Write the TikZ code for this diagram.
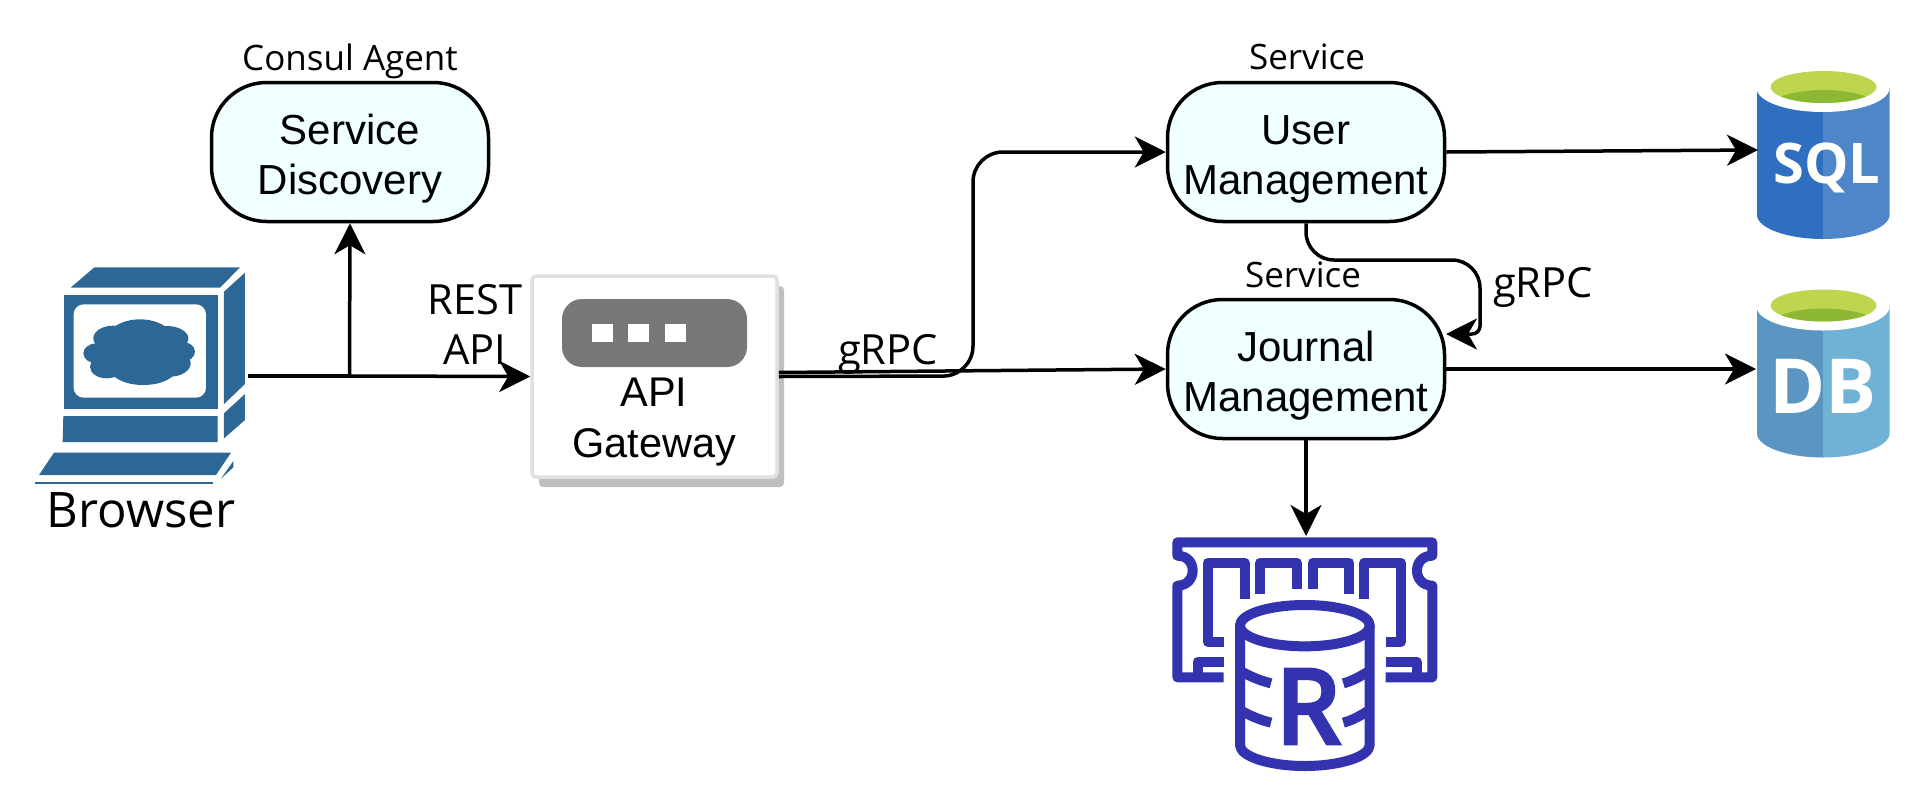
\documentclass[tikz,border=0pt]{standalone}
\usepackage{fontspec}
\setmainfont{Open Sans}
\newfontfamily\boxfont{Liberation Sans}
\newfontfamily\ramfont[FakeBold=5]{Open Sans}
\usetikzlibrary{arrows.meta,shadows}

\definecolor{boxfill}{HTML}{F0FFFF}
\definecolor{pcblue}{HTML}{2D6795}
\definecolor{ramblue}{HTML}{3333B0}
\definecolor{sqlleft}{HTML}{2F6FBF}
\definecolor{sqlright}{HTML}{4F85C9}
\definecolor{dbleft}{HTML}{5A96C1}
\definecolor{dbright}{HTML}{70B1D6}
\definecolor{canlight}{HTML}{BED550}
\definecolor{candark}{HTML}{8CB834}

\newcommand\dropline{\rule{0pt}{44pt}}

\tikzset{
  flow/.style={line width=3.5pt,-{Stealth[length=31pt,width=31pt,inset=9pt]}},
  servicebox/.style={draw,line width=3.5pt,fill=boxfill,rounded corners=55pt,
    minimum width=277pt,minimum height=139pt,align=center,
    font=\boxfont\fontsize{42}{50}\selectfont},
  gatebox/.style={draw=black!12,line width=3.5pt,fill=white,rounded corners=4pt,
    minimum width=245pt,minimum height=201pt,
    drop shadow={shadow xshift=7pt,shadow yshift=-10pt,fill=black!25,opacity=1}},
  gatetext/.style={align=center,font=\boxfont\fontsize{41.5}{51}\selectfont},
  caption/.style={anchor=base,font=\fontsize{35}{40}\selectfont},
  linklabel/.style={anchor=base,align=center,font=\fontsize{41.6}{50}\selectfont},
  cantext/.style={text=white,font=\bfseries\fontsize{#1}{#1}\selectfont},
}

\begin{document}
\begin{tikzpicture}[x=1pt,y=-1pt]
\useasboundingbox (0,0) rectangle (1920,796);

% browser icon
\begin{scope}[shift={(0,240)},x=1/3*1pt,y=-1/3*1pt,fill=pcblue]
\fill (212,143) -- (283,82) -- (720,82) -- (660,143) -- cycle;
\fill (193,165) rectangle (653,508);
\fill[white,rounded corners=10pt] (221,193) -- (618,193) -- (618,473) -- (221,473) -- cycle;
\foreach \cx/\cy/\rx/\ry in {420/300/100/62,340/295/60/38,500/295/65/37,290/340/40/30,
  545/335/40/30,320/380/50/35,430/385/100/50,510/370/62/40,420/340/130/50}
  \fill (\cx,\cy) ellipse [x radius=\rx,y radius=\ry];
\fill (672,155) -- (735,98) -- (735,432) -- (672,492) -- cycle;
\fill (190,528) -- (653,528) -- (653,606) -- (188,606) -- cycle;
\fill (672,520) -- (735,462) -- (735,540) -- (672,595) -- cycle;
\fill (162,638) -- (693,638) -- (648,705) -- (117,705) -- cycle;
\fill (700,663) -- (700,682) -- (663,716) -- cycle;
\fill (105,727) rectangle (640,733);
\end{scope}
\coordinate (browserport) at (248,376);
\coordinate (branch) at (349.5,376);
\node[anchor=base,font=\fontsize{49}{50}\selectfont] (browser) at (141,527) {Browser};

% service boxes
\node[servicebox] (discovery) at (350,152) {\dropline Service\\Discovery};
\node[servicebox] (user) at (1306,152) {\dropline User\\Management};
\node[servicebox] (journal) at (1306,369) {\dropline Journal\\Management};
\node[caption] (consul) at (350,70) {Consul Agent};
\node[caption] (usercap) at (1307,69) {Service};
\node[caption] (journalcap) at (1303,287) {Service};

% gateway
\node[gatebox] (gateway) at (654.5,376.5) {};
\fill[black!53,rounded corners=20pt] (562,299) rectangle (747,367);
\foreach \sx in {592,628,665}
  \fill[white] (\sx,324) rectangle +(21,18);
\node[gatetext] (gatewaytext) at (654,422) {API\\Gateway};

% sql and db cans
\foreach \sy/\cl/\cr in {0/sqlleft/sqlright,218.5/dbleft/dbright} {
\begin{scope}[shift={(0,\sy)}]
\fill[\cl] (1757,88) -- (1757,215) .. controls (1757,228) and (1787,239) .. (1823,239) -- (1823,88) -- cycle;
\fill[\cr] (1823,88) -- (1823,239) .. controls (1859,239) and (1889.5,228) .. (1889.5,215) -- (1889.5,88) -- cycle;
\fill[white] (1823,88) ellipse [x radius=66.5,y radius=24];
\fill[canlight] (1823.5,87) ellipse [x radius=53,y radius=16];
\begin{scope}
\clip (1823.5,87) ellipse [x radius=53,y radius=16];
\fill[candark] (1823.5,112) ellipse [x radius=60,y radius=22];
\end{scope}
\end{scope}
}
\node[cantext=56,inner sep=0pt] (sql) at (1827,168) {SQL};
\node[cantext=76,inner sep=0pt] (db) at (1823,386) {DB};
\coordinate (sqlport) at (1758,150);
\coordinate (dbport) at (1756,369);

% ram icon
\begin{scope}[shift={(1130,510)},x=1/3*1pt,y=-1/3*1pt,draw=ramblue,line width=10pt,line join=round]
\draw (281,502) -- (142,502) -- (142,227) .. controls (172,227) and (188,205) .. (188,182)
  .. controls (188,158) and (172,137) .. (142,137) -- (142,97) -- (907,97) -- (907,137)
  .. controls (877,137) and (861,158) .. (861,182) .. controls (861,205) and (877,227) .. (907,227)
  -- (907,502) -- (767,502);
\draw (281,395) -- (233,395) -- (233,158) -- (344,158) -- (344,268);
\draw (390,252) -- (390,158) -- (500,158) -- (500,237);
\draw (548,237) -- (548,158) -- (658,158) -- (658,252);
\draw (703,268) -- (703,158) -- (813,158) -- (813,395) -- (767,395);
\draw (281,455) -- (203,455) -- (203,502);
\draw (767,455) -- (860,455) -- (860,502);
\draw (524.5,347) ellipse [x radius=195,y radius=62];
\draw (330,347) -- (330,705) .. controls (330,740) and (420,768) .. (524.5,768)
  .. controls (629,768) and (719,740) .. (719,705) -- (719,347);
\foreach \by in {482,600} {
  \draw (330,\by) .. controls (355,\by+15) and (390,\by+30) .. (423,\by+38);
  \draw (719,\by) .. controls (694,\by+15) and (670,\by+30) .. (640,\by+38);
}
\end{scope}
\node[text=ramblue,font=\ramfont\fontsize{102}{102}\selectfont,inner sep=0pt] (redis) at (1308,706.5) {R};
\coordinate (ramport) at (1306,536);

% links
\draw[line width=3.5pt] (browserport) -- (branch);
\draw[flow] (branch) -- (gateway.west);
\draw[flow] (branch) -- (discovery.south);
\draw[flow] ([yshift=4pt]gateway.east) -- (journal.west);
\draw[flow,rounded corners=30pt] (gateway.east) -- (973,376) -- (973,152) -- (user.west);
\draw[flow,rounded corners=28pt] (user.south) -- (1306,260) -- (1480,260) [rounded corners=8pt] -- (1480,334) -- (1446,334);
\draw[flow] (user.east) -- (sqlport);
\draw[flow] (journal.east) -- (dbport);
\draw[flow] (journal.south) -- (ramport);

\node[linklabel] (rest) at (475,364) {REST\\API};
\node[linklabel] (grpcleft) at (888,364) {gRPC};
\node[linklabel] (grpcright) at (1543,297) {gRPC};
\end{tikzpicture}
\end{document}
